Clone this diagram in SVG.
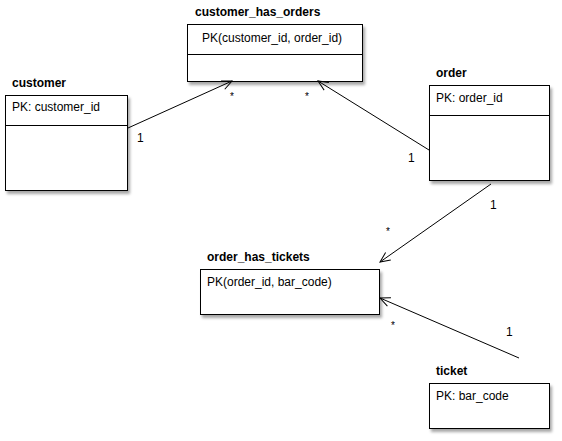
<svg xmlns="http://www.w3.org/2000/svg" width="562" height="441" viewBox="0 0 562 441">
<style>
text{font-family:"Liberation Sans",Arial,sans-serif;font-size:12px;fill:#000}
.t{font-weight:bold}
.box{fill:#fff;stroke:#000;stroke-width:1}
.ln{stroke:#000;stroke-width:1;fill:none}
.e{stroke:#000;stroke-width:1;fill:none;marker-end:url(#arr)}
.s{font-size:10px}
</style>
<defs>
<filter id="sh" x="-10%" y="-10%" width="130%" height="140%">
<feGaussianBlur in="SourceAlpha" stdDeviation="1.5"/>
<feOffset dx="2" dy="3" result="b"/>
<feComponentTransfer><feFuncA type="linear" slope="0.35"/></feComponentTransfer>
<feMerge><feMergeNode/><feMergeNode in="SourceGraphic"/></feMerge>
</filter>
<marker id="arr" viewBox="0 0 12 12" refX="11" refY="6" markerWidth="12" markerHeight="12" markerUnits="userSpaceOnUse" orient="auto">
<path d="M1,1.5 L11,6 L1,10.5" fill="none" stroke="#000" stroke-width="1"/>
</marker>
</defs>
<g id="customer_has_orders">
<text class="t" x="195" y="16">customer_has_orders</text>
<rect class="box" x="187.5" y="24.5" width="175" height="57" filter="url(#sh)"/>
<line class="ln" x1="187.5" y1="54.5" x2="362.5" y2="54.5"/>
<text x="202" y="42">PK(customer_id, order_id)</text>
</g>
<g id="customer">
<text class="t" x="12" y="87">customer</text>
<rect class="box" x="5.5" y="95.5" width="122" height="95" filter="url(#sh)"/>
<line class="ln" x1="5.5" y1="125.5" x2="127.5" y2="125.5"/>
<text x="12" y="111">PK: customer_id</text>
</g>
<g id="order">
<text class="t" x="436" y="77">order</text>
<rect class="box" x="429.5" y="85.5" width="120" height="95" filter="url(#sh)"/>
<line class="ln" x1="429.5" y1="115.5" x2="549.5" y2="115.5"/>
<text x="436" y="102">PK: order_id</text>
</g>
<g id="order_has_tickets">
<text class="t" x="207" y="261">order_has_tickets</text>
<rect class="box" x="200.5" y="269.5" width="179" height="45" filter="url(#sh)"/>
<text x="207" y="286">PK(order_id, bar_code)</text>
</g>
<g id="ticket">
<text class="t" x="436" y="375">ticket</text>
<rect class="box" x="429.5" y="383.5" width="120" height="45" filter="url(#sh)"/>
<text x="436" y="400">PK: bar_code</text>
</g>
<g id="connectors">
<line class="e" x1="128" y1="128" x2="232" y2="81"/>
<text x="137" y="142">1</text>
<text class="s" x="230" y="100">*</text>
<line class="e" x1="429" y1="150" x2="318" y2="81"/>
<text x="408" y="162">1</text>
<text class="s" x="305" y="100">*</text>
<line class="e" x1="491" y1="184" x2="380" y2="262"/>
<text x="490" y="209">1</text>
<text class="s" x="386" y="235">*</text>
<line class="e" x1="519" y1="358" x2="380" y2="298"/>
<text x="506" y="336">1</text>
<text class="s" x="391" y="329">*</text>
</g>
</svg>
